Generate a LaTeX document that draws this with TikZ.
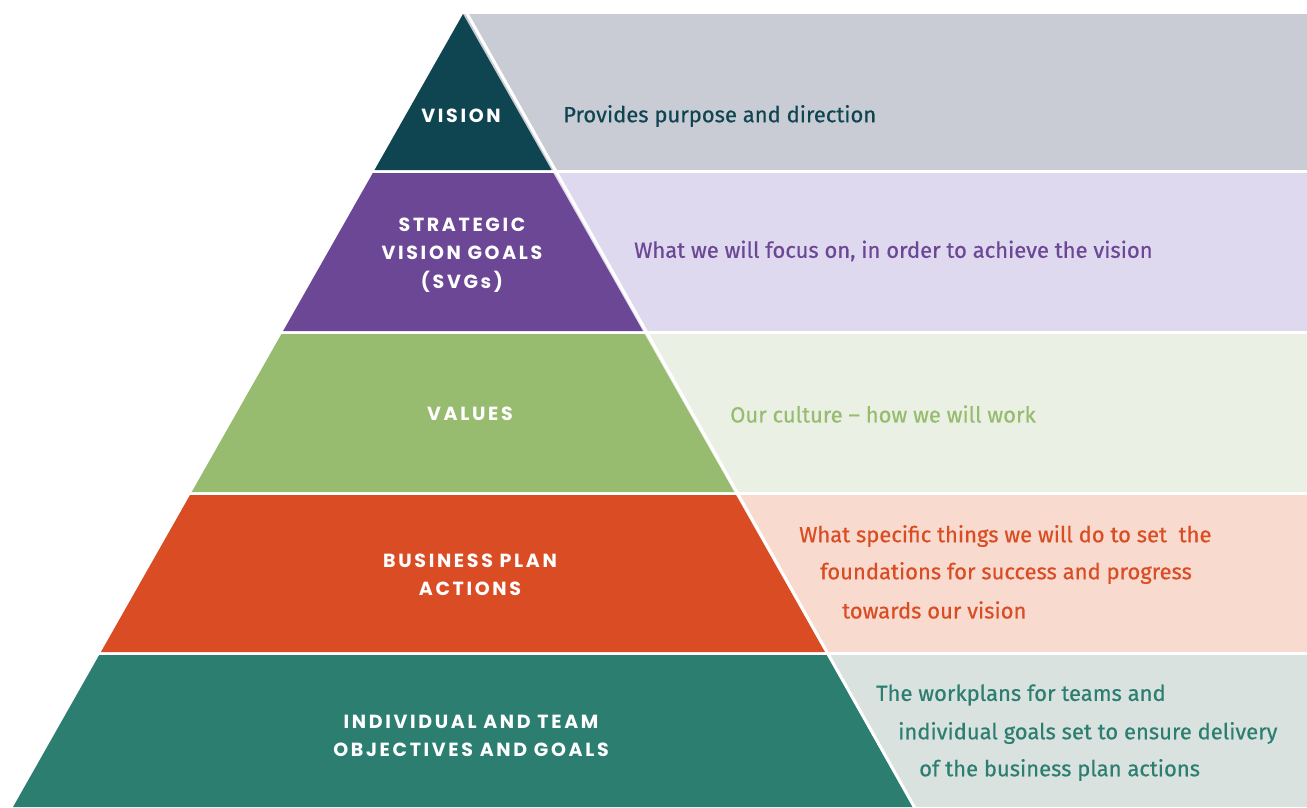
\documentclass[tikz,border=0pt]{standalone}
\usepackage{fontspec}
\setmainfont{Fira Sans}[FakeBold=0.5]
\newfontfamily\headfont{Poppins}[LetterSpace=14]
\definecolor{visdark}{HTML}{0F4451}
\definecolor{visgray}{HTML}{C9CCD5}
\definecolor{svgpurple}{HTML}{6C4795}
\definecolor{svglight}{HTML}{DED9EE}
\definecolor{valgreen}{HTML}{97BB6F}
\definecolor{vallight}{HTML}{EAF0E4}
\definecolor{bizorange}{HTML}{DA4C23}
\definecolor{bizlight}{HTML}{F8DBCE}
\definecolor{indteal}{HTML}{2C7E71}
\definecolor{indlight}{HTML}{D9E2DF}

\begin{document}
\begin{tikzpicture}[x=1pt,y=-1pt,
    level/.style={align=center,text=white,font=\headfont\bfseries\fontsize{19}{28.5}\selectfont},
    what/.style={anchor=west,inner sep=0,font=\fontsize{22}{37}\selectfont}]
  \useasboundingbox (0,0) rectangle (1307,807);
  % right hand panels
  \fill[visgray]  (463,14)  rectangle (1307,170);
  \fill[svglight] (463,173) rectangle (1307,331);
  \fill[vallight] (463,334) rectangle (1307,492);
  \fill[bizlight] (463,495) rectangle (1307,652);
  \fill[indlight] (463,655) rectangle (1307,807);
  % pyramid
  \fill[visdark]    (463,14) -- (374.5,170) -- (551.5,170) -- cycle;
  \fill[svgpurple]  (372.8,173) -- (283.1,331) -- (642.9,331) -- (553.2,173) -- cycle;
  \fill[valgreen]   (281.4,334) -- (191.7,492) -- (734.3,492) -- (644.6,334) -- cycle;
  \fill[bizorange]  (190,495) -- (100.9,652) -- (825.1,652) -- (736,495) -- cycle;
  \fill[indteal]    (99.2,655) -- (13,807) -- (913,807) -- (826.8,655) -- cycle;
  \draw[white,line width=3] (465,10) -- (916,810);
  % labels
  \node[level] (vision) at (461,116) {VISION};
  \node[level] (svg) at (462,255) {STRATEGIC\\VISION GOALS\\(SVGs)};
  \node[level] (values) at (470,414) {VALUES};
  \node[level] (biz) at (470,575) {BUSINESS PLAN\\ACTIONS};
  \node[level] (ind) at (471,736) {INDIVIDUAL AND TEAM\\OBJECTIVES AND GOALS};
  % descriptions
  \node[what,text=visdark] (visiontxt) at (563,116) {Provides purpose and direction};
  \node[what,text=svgpurple] (svgtxt) at (634,251) {What we will focus on, in order to achieve the vision};
  \node[what,text=valgreen] (valuestxt) at (730,414) {Our culture -- how we will work};
  \node[what,text=bizorange] (biztxt1) at (799,536) {What specific things we will do to set\ \ the};
  \node[what,text=bizorange] (biztxt2) at (820,573) {foundations for success and progress};
  \node[what,text=bizorange] (biztxt3) at (842,610) {towards our vision};
  \node[what,text=indteal] (indtxt1) at (876,695) {The workplans for teams and};
  \node[what,text=indteal] (indtxt2) at (898,733) {individual goals set to ensure delivery};
  \node[what,text=indteal] (indtxt3) at (919,770) {of the business plan actions};
\end{tikzpicture}
\end{document}
